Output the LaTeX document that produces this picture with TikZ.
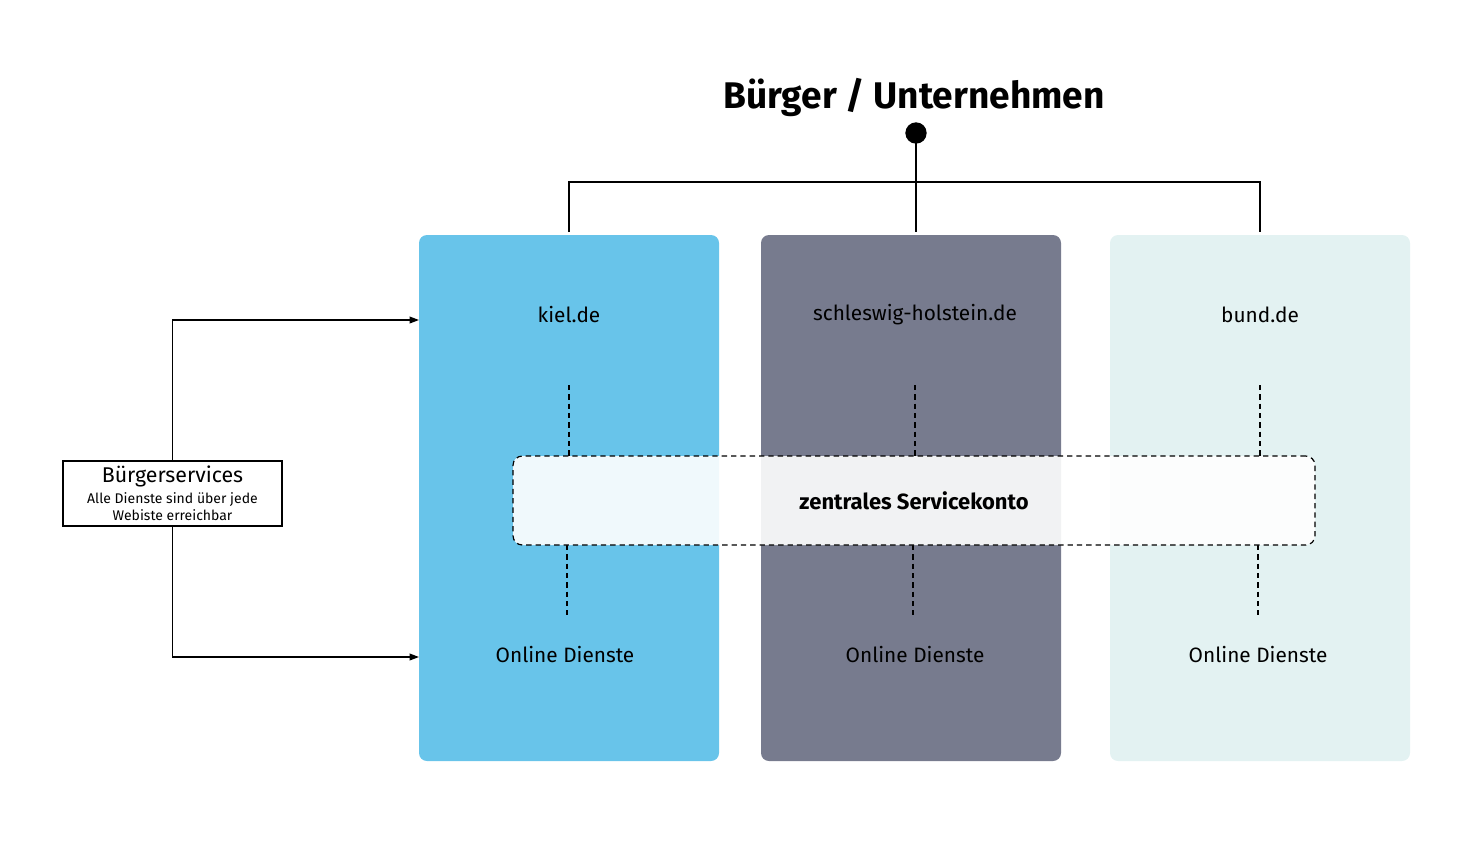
\documentclass[tikz,border=0pt]{standalone}
\usepackage{fontspec}
\setmainfont{Fira Sans}
\usepackage{tikz}
\usetikzlibrary{arrows.meta}

\definecolor{KielBlue}{HTML}{68C4EA}
\definecolor{LandGray}{HTML}{777B8E}
\definecolor{BundMint}{HTML}{E3F2F2}

\tikzset{
  colbox/.style={rounded corners=6pt, minimum width=225pt, minimum height=394.5pt, inner sep=0pt},
  lbl/.style={font=\fontsize{15.6}{18}\selectfont},
  wire/.style={line width=1.1pt, black},
  arr/.style={wire, -{Triangle[length=7pt,width=5pt]}},
  dashline/.style={line width=0.9pt, dash pattern=on 4pt off 3pt}
}

\begin{document}
\begin{tikzpicture}[x=0.75pt, y=-0.75pt]

            \useasboundingbox (0,0) rectangle (1473,843);

            % columns
            \node[colbox, fill=KielBlue] (kiel) at (569,498) {};
            \node[colbox, fill=LandGray] (land) at (911,498) {};
            \node[colbox, fill=BundMint] (bund) at (1260,498) {};

            \node[lbl] (kielname) at (569,315) {kiel.de};
            \node[lbl] (landname) at (915,315) {schleswig-holstein.de};
            \node[lbl] (bundname) at (1260,315) {bund.de};

            \node[lbl] (kieldienste) at (565,654) {Online Dienste};
            \node[lbl] (landdienste) at (915,654) {Online Dienste};
            \node[lbl] (bunddienste) at (1258,654) {Online Dienste};

            % dashed links to the service account
            \draw[dashline] (569,385) -- (569,456);
            \draw[dashline] (915,385) -- (915,456);
            \draw[dashline] (1260,385) -- (1260,456);
            \draw[dashline] (567,545) -- (567,615);
            \draw[dashline] (913,545) -- (913,615);
            \draw[dashline] (1258,545) -- (1258,615);

            \node[dashline, draw, fill=white, fill opacity=0.9, text opacity=1, rounded corners=7pt,
                  minimum width=601.5pt, minimum height=66.75pt, inner sep=0pt,
                  font=\fontsize{16.5}{19}\selectfont\bfseries] (konto) at (914,500.5) {zentrales Servicekonto};

            % top
            \node[font=\fontsize{27.8}{32}\selectfont\bfseries] (title) at (914,97) {Bürger / Unternehmen};
            \node[circle, fill=black, minimum size=16pt, inner sep=0pt] (dot) at (916,133) {};

            \coordinate (jkiel) at (569,232);
            \coordinate (jland) at (916,232);
            \coordinate (jbund) at (1260,232);
            \coordinate (bar) at (916,182);

            \draw[wire] (dot.center) -- (jland);
            \draw[wire] (jkiel) |- (bar) -| (jbund);

            % left box
            \node[draw, wire, minimum width=164pt, minimum height=48.75pt, inner sep=0pt, align=center,
                  font=\fontsize{10.5}{12.8}\selectfont]
                (buerger) at (172.5,493.5)
                {{\fontsize{16}{17}\selectfont Bürgerservices}\\[3pt]
                 Alle Dienste sind über jede\\
                 Webiste erreichbar};

            \coordinate (kielin) at (419,320);
            \coordinate (kielout) at (419,657);

            \draw[arr] (buerger.north) |- (kielin);
            \draw[arr] (buerger.south) |- (kielout);

\end{tikzpicture}
\end{document}
